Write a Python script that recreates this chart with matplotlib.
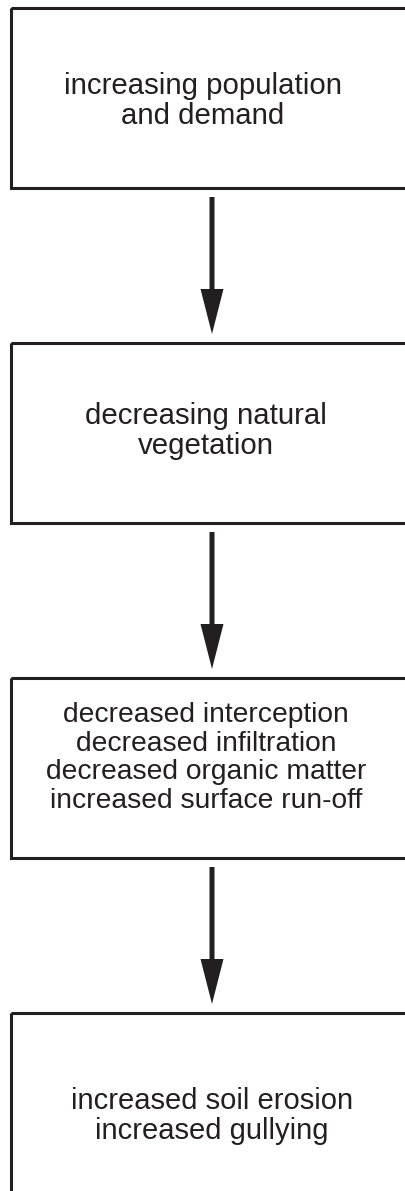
import matplotlib
matplotlib.use("Agg")
import matplotlib.pyplot as plt
from matplotlib.patches import Rectangle, FancyArrow

# flow chart steps, top to bottom
steps = [
    "increasing population\nand demand",
    "decreasing natural\nvegetation",
    "decreased interception\ndecreased infiltration\ndecreased organic matter\nincreased surface run-off",
    "increased soil erosion\nincreased gullying",
]

W, H = 406, 1191
fig = plt.figure(figsize=(W / 100, H / 100), dpi=100)
ax = fig.add_axes([0, 0, 1, 1])
ax.set_xlim(0, W)
ax.set_ylim(H, 0)
ax.axis("off")

box_left, box_right = 11.5, 430
box_top0, box_h, step = 8, 180, 335
arrow_x = 212
# where the text sits inside each box (offset from box top) and its size
text_dy = [93, 88, 80, 103]
text_x = [203, 206, 206, 212]
text_size = [21.2, 21.2, 20.3, 21.0]
text_ls = [1.07, 1.07, 1.14, 1.07]

for i, label in enumerate(steps):
    top = box_top0 + i * step
    ax.add_patch(Rectangle((box_left, top), box_right - box_left, box_h + (30 if i == 3 else 0),
                           fill=False, edgecolor="#231f20", linewidth=2.2))
    ax.text(text_x[i], top + text_dy[i], label, ha="center", va="center",
            fontsize=text_size[i], family="Liberation Sans", color="#231f20",
            linespacing=text_ls[i])
    if i < len(steps) - 1:
        y0 = top + box_h + 9
        y1 = top + step - 9
        ax.add_patch(FancyArrow(arrow_x, y0, 0, y1 - y0, width=5,
                                head_width=23, head_length=45,
                                length_includes_head=True,
                                color="#231f20", linewidth=0))

fig.savefig("out.png", dpi=100)
